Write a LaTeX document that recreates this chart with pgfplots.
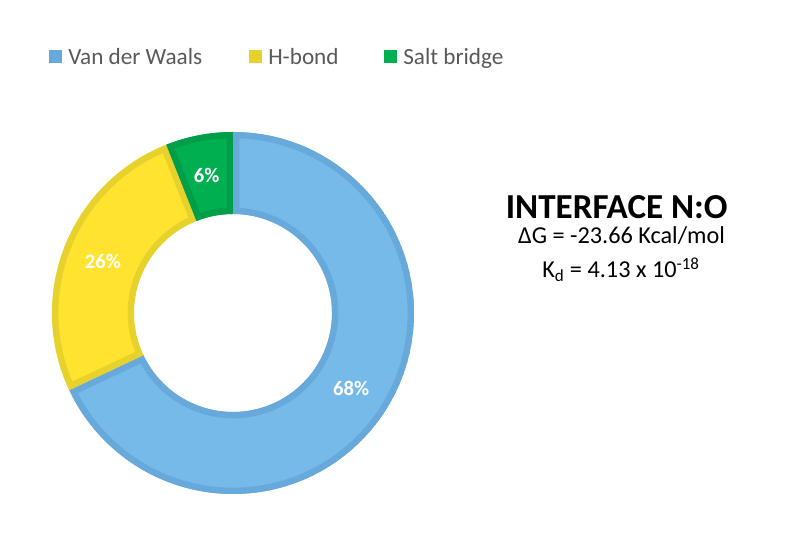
\documentclass[border=0pt]{standalone}
\usepackage{pgfplots}
\pgfplotsset{compat=1.18}
\usepackage{pgfplotstable}
\usepackage{fontspec}
\setmainfont{Carlito}
\definecolor{vdw}{RGB}{118,186,234}
\definecolor{vdwE}{RGB}{103,169,219}
\definecolor{hb}{RGB}{255,227,46}
\definecolor{hbE}{RGB}{230,209,45}
\definecolor{sb}{RGB}{0,176,80}
\definecolor{sbE}{RGB}{0,158,72}
\definecolor{legtext}{RGB}{89,89,89}

\pgfplotstableread{
name value
VdW 68
Hb 26
Sb 6
}\donutdata

\pgfplotstablegetelem{0}{value}\of\donutdata \let\vA\pgfplotsretval
\pgfplotstablegetelem{1}{value}\of\donutdata \let\vB\pgfplotsretval
\pgfplotstablegetelem{2}{value}\of\donutdata \let\vC\pgfplotsretval
\pgfmathsetmacro{\tot}{\vA+\vB+\vC}
\pgfmathsetmacro{\aA}{90}
\pgfmathsetmacro{\aB}{\aA-360*(\vA/\tot)}
\pgfmathsetmacro{\aC}{\aB-360*(\vB/\tot)}
\pgfmathsetmacro{\aD}{\aC-360*(\vC/\tot)}
\pgfmathsetmacro{\mA}{(\aA+\aB)/2}
\pgfmathsetmacro{\mB}{(\aB+\aC)/2}
\pgfmathsetmacro{\mC}{(\aC+\aD)/2}

\def\Ro{135.75pt}
\def\Ri{74.25pt}
\def\Rm{105pt}

\newcommand{\segpath}[2]{([shift={(#1:\Ro)}]axis cs:233,221) arc[start angle=#1, end angle=#2, radius=\Ro] -- ([shift={(#2:\Ri)}]axis cs:233,221) arc[start angle=#2, end angle=#1, radius=\Ri] -- cycle}

\newcommand{\segment}[4]{%
  \begin{scope}
    \clip \segpath{#1}{#2};
    \fill[#3] \segpath{#1}{#2};
    \draw[#4, line width=9.5pt] \segpath{#1}{#2};
  \end{scope}}

\begin{document}
\begin{tikzpicture}
\begin{axis}[
  x=0.75pt, y=0.75pt,
  xmin=0, xmax=800, ymin=0, ymax=534,
  hide axis, clip=false,
]
\path (axis cs:0,0) rectangle (axis cs:800,534);
\segment{\aA}{\aB}{vdw}{vdwE}
\segment{\aB}{\aC}{hb}{hbE}
\segment{\aC}{\aD}{sb}{sbE}

\node[text=white, font=\bfseries\fontsize{15.5}{18}\selectfont] at ([shift={(\mA:\Rm)}]axis cs:233,221) {\vA\%};
\node[text=white, font=\bfseries\fontsize{15.5}{18}\selectfont] at ([shift={(\mB:\Rm)}]axis cs:233,221) {\vB\%};
\node[text=white, font=\bfseries\fontsize{15.5}{18}\selectfont] at ([shift={(\mC:\Rm)}]axis cs:233,221) {\vC\%};

% legend
\fill[vdwE] (axis cs:49,470.5) rectangle (axis cs:62,483.5);
\fill[hbE] (axis cs:249,470.5) rectangle (axis cs:262,483.5);
\fill[sb] (axis cs:384,470.5) rectangle (axis cs:397,483.5);
\node[anchor=base west, inner sep=0, text=legtext, font=\fontsize{17.4}{20}\selectfont] at (axis cs:68,469.7) {Van der Waals};
\node[anchor=base west, inner sep=0, text=legtext, font=\fontsize{17.4}{20}\selectfont] at (axis cs:268,469.7) {H-bond};
\node[anchor=base west, inner sep=0, text=legtext, font=\fontsize{17.4}{20}\selectfont] at (axis cs:403,469.7) {Salt bridge};

% side text
\node[anchor=base, inner sep=0, font=\bfseries\fontsize{26.3}{30}\selectfont] at (axis cs:616.7,315.5) {INTERFACE N:O};
\node[anchor=base, inner sep=0, font=\fontsize{18.2}{22}\selectfont] at (axis cs:621.5,290) {ΔG = -23.66 Kcal/mol};
\node[anchor=base, inner sep=0, font=\fontsize{18.2}{22}\selectfont] at (axis cs:621,256.3) {K\textsubscript{d} = 4.13 x 10\textsuperscript{-18}};
\end{axis}
\end{tikzpicture}
\end{document}
